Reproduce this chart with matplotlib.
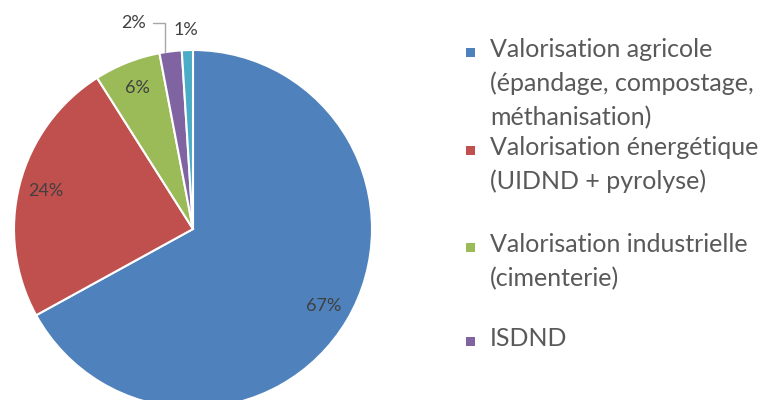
import matplotlib.pyplot as plt
import numpy as np
from matplotlib.patches import Rectangle

plt.rcParams['font.family'] = ['Lato', 'DejaVu Sans']

# données
categories = ['Valorisation agricole\n(épandage, compostage,\nméthanisation)',
              'Valorisation énergétique\n(UIDND + pyrolyse)',
              'Valorisation industrielle\n(cimenterie)',
              'ISDND']
values = [67, 24, 6, 2, 1]
colors = ['#4F81BD', '#C0504D', '#9BBB59', '#8064A2', '#4BACC6']

W, H = 763, 400
fig = plt.figure(figsize=(W / 100, H / 100), dpi=100)

# camembert : centre (193, 229) px, rayon 179 px
cx, cy, r = 193, 229, 179
ax = fig.add_axes([(cx - r) / W, 1 - (cy + r) / H, 2 * r / W, 2 * r / H])
wedges, texts, autotexts = ax.pie(values, colors=colors, startangle=90, counterclock=False,
                                  autopct='%d%%', pctdistance=0.85, radius=1,
                                  wedgeprops=dict(edgecolor='white', linewidth=1.5))
ax.set_xlim(-1, 1)
ax.set_ylim(-1, 1)
ax.set_aspect('auto')
ax.axis('off')

for t in autotexts:
    t.set_color('#404040')
    t.set_fontsize(13)

# petites parts : étiquettes à l'extérieur
autotexts[3].set_visible(False)
autotexts[4].set_visible(False)
w2 = wedges[3]
a2 = np.deg2rad(w2.theta2 - 0.25 * (w2.theta2 - w2.theta1))
ax.annotate('2%', xy=(np.cos(a2), np.sin(a2)), xytext=(-0.33, 1.15),
            fontsize=13, color='#404040', ha='center', va='center', annotation_clip=False,
            arrowprops=dict(arrowstyle='-', color='#A6A6A6', lw=1,
                            connectionstyle='angle,angleA=0,angleB=90,rad=0',
                            shrinkA=3, shrinkB=0))
ax.text(-0.04, 1.11, '1%', fontsize=13, color='#404040', ha='center', va='center')

# légende (la 5e entrée est hors cadre dans l'original)
ys = [52, 150, 247, 341]
for lab, c, y in zip(categories, colors, ys):
    fig.patches.append(Rectangle((466 / W, 1 - (y + 4.5) / H), 9 / W, 9 / H,
                                 transform=fig.transFigure, facecolor=c, edgecolor='none'))
    fig.text(490 / W, 1 - (y - 14) / H, lab, fontsize=18, color='#595959',
             ha='left', va='top', linespacing=1.55)

fig.savefig('out.png', dpi=100)
